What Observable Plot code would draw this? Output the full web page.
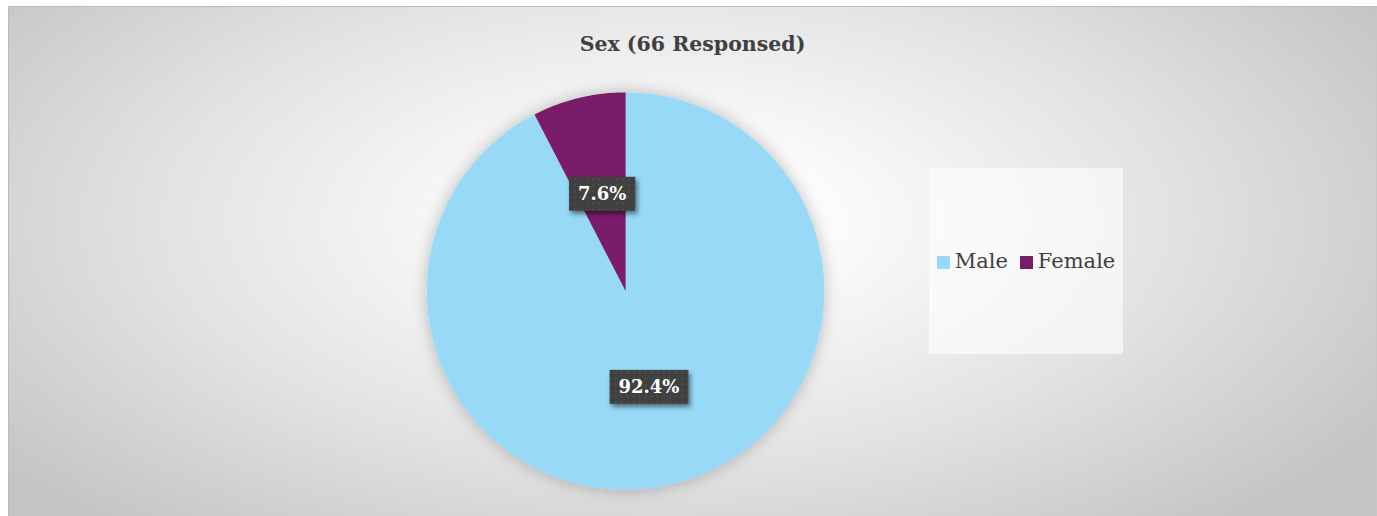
<!DOCTYPE html>
<html><head><meta charset="utf-8">
<script src="https://cdn.jsdelivr.net/npm/d3@7"></script>
<script src="https://cdn.jsdelivr.net/npm/@observablehq/plot@0.6"></script>
<style>
body{margin:0;background:#fff;}
#chart{position:absolute;left:8px;top:6px;width:1369px;height:510px;box-sizing:border-box;
 border-top:1px solid #bcbcbc;border-left:1px solid #bcbcbc;border-right:1px solid #c8c8c8;
 background:radial-gradient(ellipse 62% 80% at 48% 42%, #ffffff 0%, #fbfbfb 20%, #e2e2e2 60%, #c4c4c4 100%);overflow:hidden;}
#title{position:absolute;left:0;top:25px;width:100%;text-align:center;font-family:"DejaVu Serif",serif;font-weight:bold;font-size:20.5px;line-height:24px;color:#404040;}
#legend{position:absolute;left:920px;top:161px;width:194px;height:186px;background:rgba(255,255,255,0.6);
 display:flex;align-items:center;justify-content:center;font-family:"DejaVu Serif",serif;font-size:21px;color:#404040;}
#legend .sw{display:inline-block;width:13px;height:13px;margin-right:5px;vertical-align:-1px;}
#legend .it{margin-right:12px;white-space:nowrap;}
#legend .it:last-child{margin-right:0}
#plot{position:absolute;left:0;top:0;}
</style></head>
<body>
<div id="chart">
  <div id="plot"></div>
  <div id="title">Sex (66 Responsed)</div>
  <div id="legend"></div>
</div>
<script>
const categories = ["Male", "Female"];
const counts = [61, 5];
const colors = ["#97d9f6", "#7a1e6a"];

const total = d3.sum(counts);
// build slice outlines from the data (angles measured clockwise from 12 o'clock)
const slices = [];
const labels = [];
let acc = 0;
categories.forEach((cat, i) => {
  const a0 = acc / total * 2 * Math.PI;
  acc += counts[i];
  const a1 = acc / total * 2 * Math.PI;
  slices.push({cat, x: 0, y: 0});
  const n = Math.max(2, Math.ceil((a1 - a0) / (Math.PI / 360)));
  for (let k = 0; k <= n; k++) {
    const a = a0 + (a1 - a0) * k / n;
    slices.push({cat, x: Math.sin(a), y: Math.cos(a)});
  }
  slices.push({cat, x: 0, y: 0});
  const m = (a0 + a1) / 2;
  labels.push({cat, x: 0.5 * Math.sin(m), y: 0.5 * Math.cos(m), text: (counts[i] / total * 100).toFixed(1) + "%"});
});

const W = 1369, H = 510;
const cx = 617, cy = 284, r = 199;

const plot = Plot.plot({
  width: W, height: H,
  margin: 0,
  style: {background: "transparent", overflow: "visible"},
  x: {domain: [-1, 1], range: [cx - r, cx + r], axis: null},
  y: {domain: [-1, 1], range: [cy + r, cy - r], axis: null},
  color: {domain: categories, range: colors},
  marks: [
    Plot.line(slices, {x: "x", y: "y", z: "cat", fill: "cat", stroke: "none", curve: "linear", className: "pie"}),
    Plot.text(labels, {x: "x", y: "y", text: "text", fill: "white", fontSize: 18, fontWeight: "bold",
      fontFamily: "DejaVu Serif, serif", className: "lbl"})
  ]
});
document.getElementById("plot").appendChild(plot);

// defs: pattern and shadows
const svg = d3.select(plot);
const defs = svg.insert("defs", ":first-child");
const pat = defs.append("pattern").attr("id", "dots").attr("width", 6).attr("height", 6).attr("patternUnits", "userSpaceOnUse");
pat.append("rect").attr("width", 6).attr("height", 6).attr("fill", "#404040");
pat.append("rect").attr("x", 2).attr("y", 2).attr("width", 1.5).attr("height", 1.5).attr("fill", "#585858");
const f1 = defs.append("filter").attr("id", "pieShadow").attr("x", "-20%").attr("y", "-20%").attr("width", "140%").attr("height", "140%");
f1.append("feDropShadow").attr("dx", 0).attr("dy", 0).attr("stdDeviation", 8).attr("flood-color", "#000").attr("flood-opacity", 0.25);
const f2 = defs.append("filter").attr("id", "lblShadow").attr("x", "-30%").attr("y", "-30%").attr("width", "160%").attr("height", "160%");
f2.append("feDropShadow").attr("dx", 2).attr("dy", 3).attr("stdDeviation", 2.5).attr("flood-color", "#000").attr("flood-opacity", 0.5);

svg.select("g.pie").attr("filter", "url(#pieShadow)");

// label background boxes (placed in the same transform as each text)
svg.selectAll("g.lbl text").each(function() {
  const b = this.getBBox();
  const padX = 9, h = 34;
  const cyT = b.y + b.height / 2;
  const tr = this.getAttribute("transform");
  const rect = d3.select(this.parentNode).insert("rect", () => this)
    .attr("x", b.x - padX + (+this.getAttribute("x") || 0) * 0)
    .attr("y", cyT - h / 2)
    .attr("width", b.width + 2 * padX).attr("height", h)
    .attr("fill", "url(#dots)").attr("filter", "url(#lblShadow)");
  if (tr) rect.attr("transform", tr);
});

// legend
const lg = document.getElementById("legend");
categories.forEach((c, i) => {
  const s = document.createElement("span");
  s.className = "it";
  s.innerHTML = `<span class="sw" style="background:${colors[i]}"></span>${c}`;
  lg.appendChild(s);
});
</script>
</body></html>
